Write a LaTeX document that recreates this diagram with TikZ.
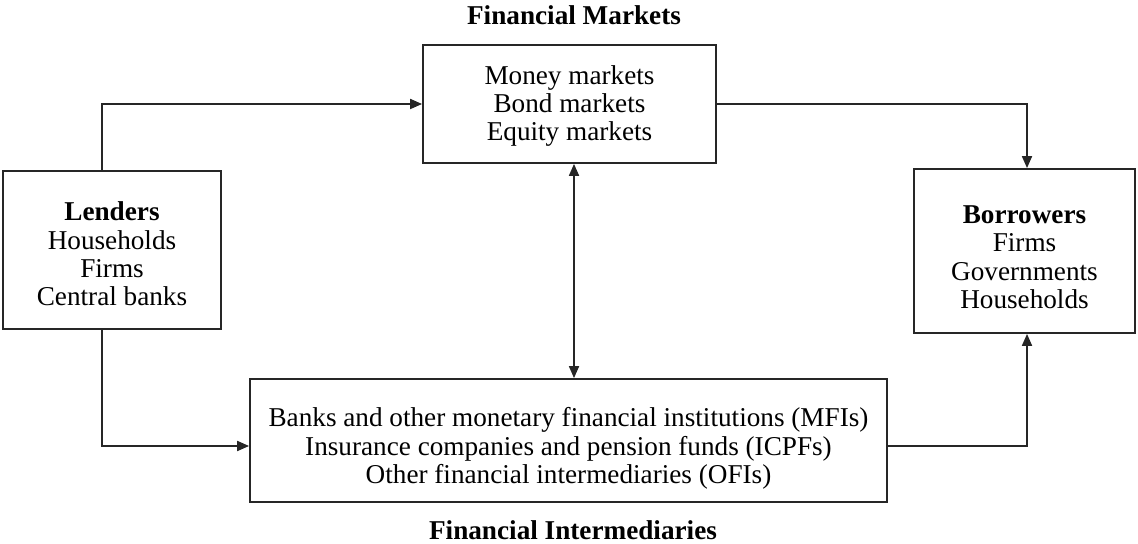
\documentclass[tikz,border=0pt]{standalone}
\usepackage{fontspec}
\setmainfont{Liberation Serif}
\usetikzlibrary{arrows.meta}
\newcommand{\topstrut}[1]{\rule{0pt}{#1}}
\begin{document}
\begin{tikzpicture}[x=0.5pt,y=-0.5pt,
  box/.style={draw=black!85,line width=0.9pt,inner sep=0pt,align=center,
    font=\fontsize{13.6}{14.2}\selectfont},
  ttl/.style={font=\fontsize{13.6}{14.2}\selectfont\bfseries},
  conn/.style={draw=black!85,line width=0.9pt,-{Triangle[length=6pt,width=5pt]}},
  dconn/.style={draw=black!85,line width=0.9pt,{Triangle[length=6pt,width=5pt]}-{Triangle[length=6pt,width=5pt]}}]
\useasboundingbox (0,0) rectangle (1138,544);
\node[ttl] (tmk) at (574,15) {Financial Markets};
\node[ttl] (tfi) at (573,530) {Financial Intermediaries};
\node[box,minimum width=146.5pt,minimum height=59pt] (mk) at (569.5,104)
  {\topstrut{11.5pt}Money markets\\Bond markets\\Equity markets};
\node[box,minimum width=109pt,minimum height=79pt] (lend) at (112,250)
  {\topstrut{13.5pt}\textbf{Lenders}\\Households\\Firms\\Central banks};
\node[box,minimum width=110.5pt,minimum height=82pt] (bor) at (1024.5,251)
  {\topstrut{15pt}\textbf{Borrowers}\\Firms\\Governments\\Households};
\node[box,minimum width=318.5pt,minimum height=61.5pt] (fi) at (568.5,440.5)
  {\topstrut{17.5pt}Banks and other monetary financial institutions (MFIs)\\Insurance companies and pension funds (ICPFs)\\Other financial intermediaries (OFIs)};
\draw[conn] ([xshift=-5pt]lend.north) |- (mk.west);
\draw[conn] (mk.east) -| ([xshift=1.25pt]bor.north);
\draw[conn] ([xshift=-5pt]lend.south) |- ([yshift=-2.75pt]fi.west);
\draw[conn] ([yshift=-2.75pt]fi.east) -| ([xshift=1.25pt]bor.south);
\draw[dconn] ([xshift=2.25pt]mk.south) -- ([xshift=2.75pt]fi.north);
\end{tikzpicture}
\end{document}
